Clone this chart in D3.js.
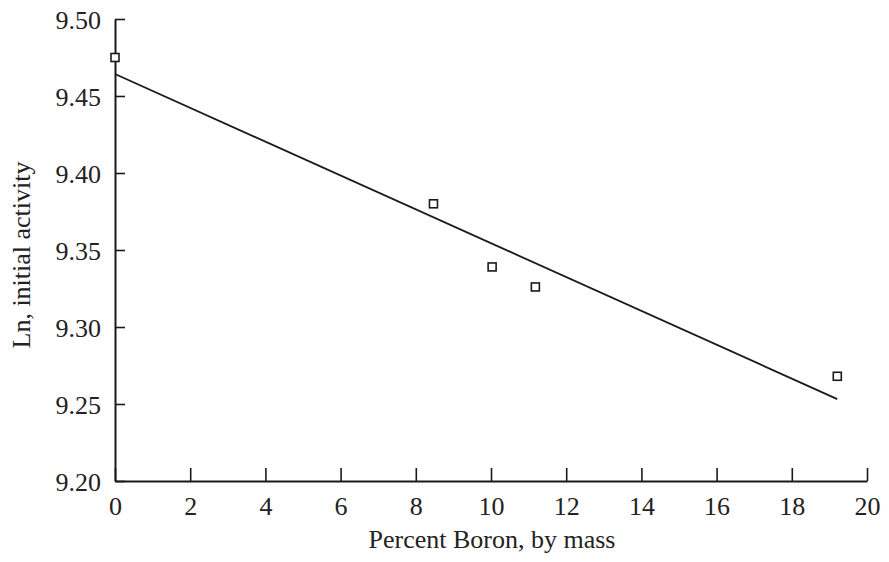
<!DOCTYPE html>
<html>
<head>
<meta charset="utf-8">
<script src="https://cdn.jsdelivr.net/npm/d3@7"></script>
<style>
  html, body { margin: 0; padding: 0; background: #fff; }
  svg text { font-family: "Liberation Serif", "Times New Roman", serif; fill: #222; }
</style>
</head>
<body>
<svg id="chart" width="889" height="562"></svg>
<script>
// Data
const percentBoron = [0, 8.47, 10.03, 11.18, 19.21];
const lnActivity   = [9.475, 9.380, 9.339, 9.326, 9.268];
// Fitted regression line endpoints
const fitX = [0, 19.21];
const fitY = [9.4643, 9.2532];
const xTicks = [0, 2, 4, 6, 8, 10, 12, 14, 16, 18, 20];
const yTicks = [9.20, 9.25, 9.30, 9.35, 9.40, 9.45, 9.50];
const xLabel = "Percent Boron, by mass";
const yLabel = "Ln, initial activity";

(function () {
const svg = d3.select("#chart");
const mLeft = 115, mRight = 867, mTop = 19, mBottom = 481;

const x = d3.scaleLinear().domain([0, 20]).range([mLeft, mRight]);
const y = d3.scaleLinear().domain([9.20, 9.50]).range([mBottom, mTop]);

const ink = "#1a1a1a";

// X axis (ticks pointing inward/up)
const xAxis = d3.axisBottom(x).tickValues(xTicks).tickSizeInner(-13).tickSizeOuter(0)
  .tickPadding(22).tickFormat(d3.format("d"));
const gx = svg.append("g").attr("transform", `translate(0,${mBottom})`).call(xAxis);
gx.select(".domain").attr("stroke", ink).attr("stroke-width", 2);
gx.selectAll(".tick line").attr("stroke", ink).attr("stroke-width", 1.6);
gx.selectAll(".tick text").attr("font-size", 26).attr("fill", "#222")
  .attr("font-family", "Liberation Serif, serif").attr("dy", "0.71em")
  .attr("y", 16);

// Y axis (ticks pointing inward/right)
const yAxis = d3.axisLeft(y).tickValues(yTicks).tickSizeInner(-10).tickSizeOuter(0)
  .tickPadding(14).tickFormat(d3.format(".2f"));
const gy = svg.append("g").attr("transform", `translate(${mLeft},0)`).call(yAxis);
gy.select(".domain").attr("stroke", ink).attr("stroke-width", 2);
gy.selectAll(".tick line").attr("stroke", ink).attr("stroke-width", 1.6);
gy.selectAll(".tick text").attr("font-size", 26).attr("fill", "#222")
  .attr("font-family", "Liberation Serif, serif").attr("x", -14).attr("dy", "0.36em");

// Regression line
svg.append("line")
  .attr("x1", x(fitX[0])).attr("y1", y(fitY[0]))
  .attr("x2", x(fitX[1])).attr("y2", y(fitY[1]))
  .attr("stroke", ink).attr("stroke-width", 1.8);

// Data points as open squares
const pts = percentBoron.map((d, i) => ({ x: d, y: lnActivity[i] }));
const s = 8;
svg.append("g").selectAll("rect").data(pts).join("rect")
  .attr("x", d => x(d.x) - s / 2).attr("y", d => y(d.y) - s / 2)
  .attr("width", s).attr("height", s)
  .attr("fill", "white").attr("stroke", ink).attr("stroke-width", 1.6);

// Axis titles
svg.append("text").attr("x", (mLeft + mRight) / 2 + 1).attr("y", 548)
  .attr("text-anchor", "middle").attr("font-size", 26).text(xLabel);
svg.append("text").attr("transform", `translate(30,255) rotate(-90)`)
  .attr("text-anchor", "middle").attr("font-size", 26).text(yLabel);
})();
</script>
</body>
</html>
